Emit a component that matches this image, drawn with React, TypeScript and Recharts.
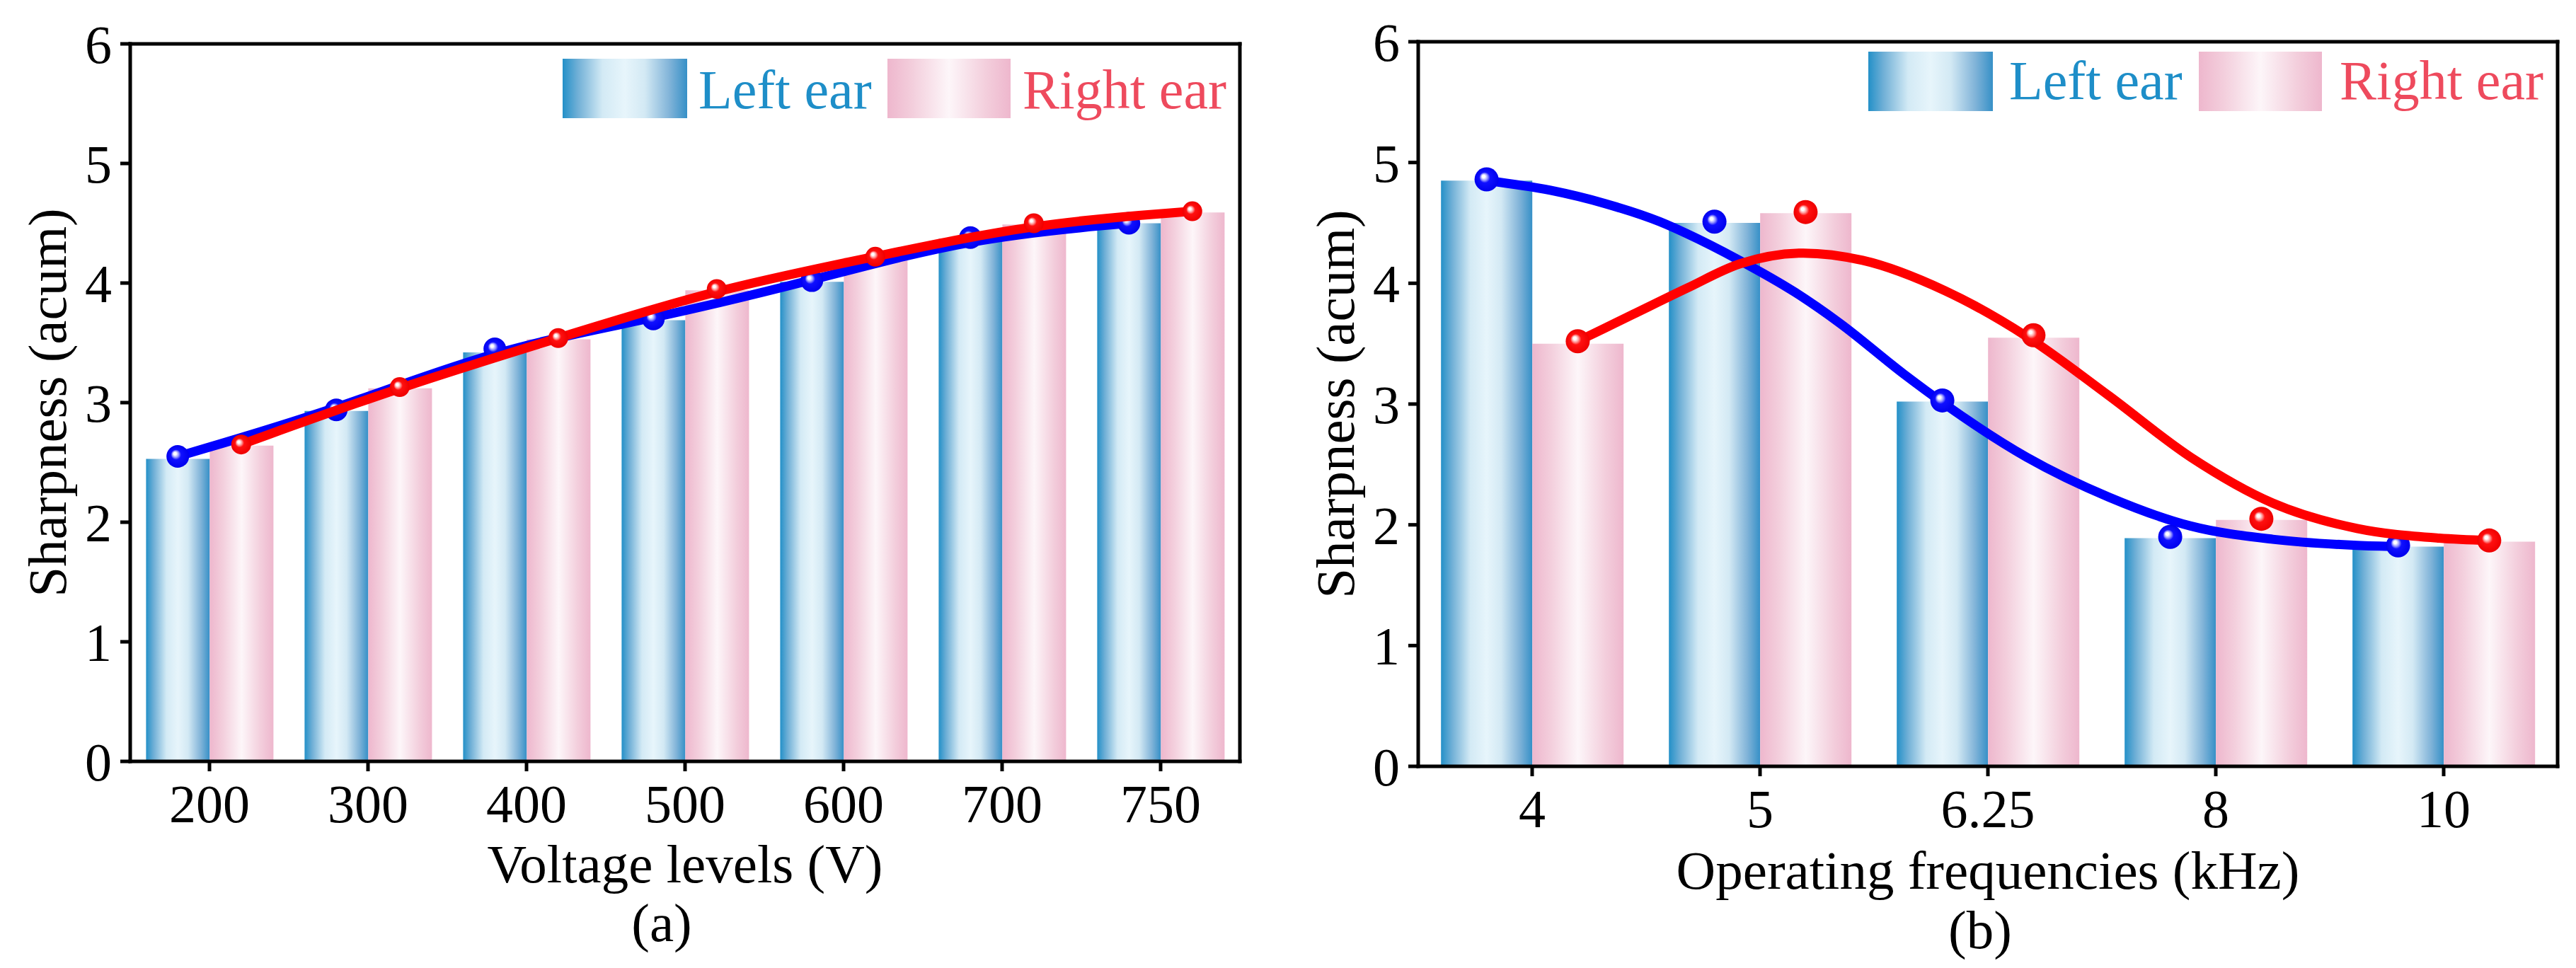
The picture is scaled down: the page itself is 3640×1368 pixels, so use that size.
import React from 'react';
import { ComposedChart, Bar, Line, Scatter, XAxis, YAxis } from 'recharts';

// ---------- Panel (a): voltage levels ----------
const voltageLevels = ['200', '300', '400', '500', '600', '700', '750'];
const voltageLeftEar = [2.53, 2.93, 3.42, 3.69, 4.01, 4.37, 4.5];
const voltageRightEar = [2.64, 3.12, 3.53, 3.94, 4.21, 4.49, 4.59];
const voltageLeftMarks = [2.55, 2.94, 3.45, 3.7, 4.02, 4.38, 4.5];
const voltageRightMarks = [2.65, 3.13, 3.54, 3.95, 4.22, 4.5, 4.6];

// ---------- Panel (b): operating frequencies ----------
const freqLevels = ['4', '5', '6.25', '8', '10'];
const freqLeftEar = [4.85, 4.5, 3.02, 1.89, 1.82];
const freqRightEar = [3.5, 4.58, 3.55, 2.04, 1.86];
const freqLeftMarks = [4.86, 4.51, 3.03, 1.9, 1.83];
const freqRightMarks = [3.52, 4.59, 3.57, 2.05, 1.87];

// fitted curves of panel (b), read along the category axis (category-index units)
const freqLeftFitPos = [0.3, 0.58, 0.82, 1.06, 1.18, 1.41, 1.65, 1.85, 2.13, 2.31, 2.67, 3.03, 3.39, 3.75, 4.12, 4.3];
const freqLeftFitVal = [4.85, 4.77, 4.66, 4.51, 4.41, 4.19, 3.93, 3.67, 3.25, 3.0, 2.56, 2.23, 1.99, 1.88, 1.83, 1.82];
const freqRightFitPos = [0.7, 0.94, 1.18, 1.41, 1.69, 1.95, 2.31, 2.67, 3.03, 3.39, 3.75, 4.12, 4.48, 4.7];
const freqRightFitVal = [3.52, 3.74, 3.96, 4.16, 4.25, 4.19, 3.94, 3.56, 3.07, 2.56, 2.18, 1.97, 1.89, 1.87];

const yTicks = [0, 1, 2, 3, 4, 5, 6];

const FONT = "'Liberation Serif', 'Times New Roman', Times, serif";
const CAT_GAP = 0.1; // barCategoryGap 10%
const BAR_SHARE = 0.4; // each bar = 40% of band
const LEFT_CENTER = CAT_GAP + BAR_SHARE / 2;
const RIGHT_CENTER = CAT_GAP + BAR_SHARE * 1.5;

const axisStroke = { stroke: '#000', strokeWidth: 5, strokeLinecap: 'square' as const };
const tickStroke = { stroke: '#000', strokeWidth: 5 };
const tickFont = { fill: '#000', fontSize: 76, fontFamily: FONT };

function Grads({ id }: { id: string }) {
  return (
    <defs>
      <linearGradient id={`${id}-blue`} x1="0" y1="0" x2="1" y2="0">
        <stop offset="0" stopColor="#2390C8" />
        <stop offset="0.12" stopColor="#6FAFD6" />
        <stop offset="0.32" stopColor="#D3EAF5" />
        <stop offset="0.5" stopColor="#E7F5FB" />
        <stop offset="0.66" stopColor="#D3E9F4" />
        <stop offset="0.86" stopColor="#80B3D8" />
        <stop offset="1" stopColor="#3690C7" />
      </linearGradient>
      <linearGradient id={`${id}-pink`} x1="0" y1="0" x2="1" y2="0">
        <stop offset="0" stopColor="#EEB7CD" />
        <stop offset="0.2" stopColor="#F3CEDC" />
        <stop offset="0.5" stopColor="#FDF6F9" />
        <stop offset="0.8" stopColor="#F3CEDC" />
        <stop offset="1" stopColor="#EEB7CD" />
      </linearGradient>
      <radialGradient id={`${id}-sb`} cx="0.5" cy="0.5" r="0.5" fx="0.36" fy="0.36">
        <stop offset="0" stopColor="#FFFFFF" />
        <stop offset="0.12" stopColor="#FFFFFF" />
        <stop offset="0.28" stopColor="#9A9AFF" />
        <stop offset="0.45" stopColor="#1010FF" />
        <stop offset="1" stopColor="#0000EE" />
      </radialGradient>
      <radialGradient id={`${id}-sr`} cx="0.5" cy="0.5" r="0.5" fx="0.36" fy="0.36">
        <stop offset="0" stopColor="#FFFFFF" />
        <stop offset="0.12" stopColor="#FFFFFF" />
        <stop offset="0.28" stopColor="#FF9A9A" />
        <stop offset="0.45" stopColor="#FF1010" />
        <stop offset="1" stopColor="#EE0000" />
      </radialGradient>
    </defs>
  );
}

type PanelProps = {
  id: string;
  cats: string[];
  lBars: number[];
  rBars: number[];
  lMarks: number[];
  rMarks: number[];
  lFitPos: number[];
  lFitVal: number[];
  rFitPos: number[];
  rFitVal: number[];
  curve: 'basis' | 'monotone';
  rBlue: number;
  rRed: number;
  margin: { top: number; right: number; bottom: number; left: number };
  xHeight: number;
  yWidth: number;
};

function Panel(p: PanelProps) {
  const n = p.cats.length;
  const data = p.cats.map((c, i) => ({ cat: c, left: p.lBars[i], right: p.rBars[i] }));
  const lMarkData = p.lMarks.map((v, i) => ({ x: i + LEFT_CENTER, y: v }));
  const rMarkData = p.rMarks.map((v, i) => ({ x: i + RIGHT_CENTER, y: v }));
  const lFit = p.lFitPos.map((x, i) => ({ x, y: p.lFitVal[i] }));
  const rFit = p.rFitPos.map((x, i) => ({ x, y: p.rFitVal[i] }));
  const sphere = (grad: string, r: number) => (props: any) => (
    <circle cx={props.cx} cy={props.cy} r={r} fill={`url(#${grad})`} />
  );
  return (
    <ComposedChart
      width={1820}
      height={1368}
      data={data}
      margin={p.margin}
      barCategoryGap="10%"
      barGap={0}
    >
      <Grads id={p.id} />
      <XAxis
        xAxisId="cat"
        dataKey="cat"
        type="category"
        height={p.xHeight}
        interval={0}
        tickSize={14}
        tickMargin={18}
        tick={tickFont}
        tickLine={tickStroke}
        axisLine={axisStroke}
      />
      <XAxis
        xAxisId="pos"
        dataKey="x"
        type="number"
        orientation="top"
        domain={[0, n]}
        allowDataOverflow
        height={1}
        tick={false}
        tickLine={false}
        axisLine={axisStroke}
      />
      <YAxis
        yAxisId="v"
        domain={[0, 6]}
        ticks={yTicks}
        interval={0}
        width={p.yWidth}
        tickSize={14}
        tickMargin={12}
        tick={tickFont}
        tickLine={tickStroke}
        axisLine={axisStroke}
      />
      <YAxis
        yAxisId="frame"
        orientation="right"
        domain={[0, 6]}
        width={1}
        tick={false}
        tickLine={false}
        axisLine={axisStroke}
      />
      <Bar xAxisId="cat" yAxisId="v" dataKey="left" fill={`url(#${p.id}-blue)`} isAnimationActive={false} />
      <Bar xAxisId="cat" yAxisId="v" dataKey="right" fill={`url(#${p.id}-pink)`} isAnimationActive={false} />
      <Line
        xAxisId="pos"
        yAxisId="v"
        data={lFit}
        dataKey="y"
        type={p.curve}
        stroke="#0000FF"
        strokeWidth={13}
        dot={false}
        activeDot={false}
        isAnimationActive={false}
        {...({ zIndex: 610 } as any)}
      />
      <Scatter
        xAxisId="pos"
        yAxisId="v"
        data={lMarkData}
        dataKey="y"
        shape={sphere(`${p.id}-sb`, p.rBlue)}
        isAnimationActive={false}
        {...({ zIndex: 620 } as any)}
      />
      <Line
        xAxisId="pos"
        yAxisId="v"
        data={rFit}
        dataKey="y"
        type={p.curve}
        stroke="#FF0000"
        strokeWidth={13}
        dot={false}
        activeDot={false}
        isAnimationActive={false}
        {...({ zIndex: 630 } as any)}
      />
      <Scatter
        xAxisId="pos"
        yAxisId="v"
        data={rMarkData}
        dataKey="y"
        shape={sphere(`${p.id}-sr`, p.rRed)}
        isAnimationActive={false}
        {...({ zIndex: 640 } as any)}
      />
    </ComposedChart>
  );
}

function LegendBlock({ x, y, gap, id }: { x: number[]; y: number; gap: number; id: string }) {
  // x = [blue swatch x, blue text x, pink swatch x, pink text x]
  const h = 84;
  return (
    <g>
      <rect x={x[0]} y={y} width={176} height={h} fill={`url(#${id}-blue)`} />
      <text x={x[1]} y={y + h / 2 + gap} fontSize={78} fontFamily={FONT} fill="#1E8EC8">
        Left ear
      </text>
      <rect x={x[2]} y={y} width={174} height={h} fill={`url(#${id}-pink)`} />
      <text x={x[3]} y={y + h / 2 + gap} fontSize={78} fontFamily={FONT} fill="#EE4A5D">
        Right ear
      </text>
    </g>
  );
}

export default function App() {
  return (
    <div style={{ position: 'absolute', left: 0, top: 0, width: 3640, height: 1368, background: '#fff', overflow: 'hidden' }}>
      <div style={{ position: 'absolute', left: 0, top: 0 }}>
        <Panel
          id="pa"
          cats={voltageLevels}
          lBars={voltageLeftEar}
          rBars={voltageRightEar}
          lMarks={voltageLeftMarks}
          rMarks={voltageRightMarks}
          lFitPos={voltageLeftMarks.map((_, i) => i + LEFT_CENTER)}
          lFitVal={voltageLeftMarks}
          rFitPos={voltageRightMarks.map((_, i) => i + RIGHT_CENTER)}
          rFitVal={voltageRightMarks}
          curve="basis"
          rBlue={16}
          rRed={14}
          margin={{ top: 61, right: 67, bottom: 0, left: 0 }}
          xHeight={292}
          yWidth={184}
        />
      </div>
      <div style={{ position: 'absolute', left: 1820, top: 0 }}>
        <Panel
          id="pb"
          cats={freqLevels}
          lBars={freqLeftEar}
          rBars={freqRightEar}
          lMarks={freqLeftMarks}
          rMarks={freqRightMarks}
          lFitPos={freqLeftFitPos}
          lFitVal={freqLeftFitVal}
          rFitPos={freqRightFitPos}
          rFitVal={freqRightFitVal}
          curve="monotone"
          rBlue={17}
          rRed={17}
          margin={{ top: 58, right: 25, bottom: 0, left: 0 }}
          xHeight={285}
          yWidth={184}
        />
      </div>
      <svg
        width={3640}
        height={1368}
        style={{ position: 'absolute', left: 0, top: 0, pointerEvents: 'none' }}
      >
        <Grads id="lg" />
        {/* panel (a) texts */}
        <text x={968} y={1247} textAnchor="middle" fontSize={77} fontFamily={FONT} fill="#000">
          Voltage levels (V)
        </text>
        <text x={935} y={1330} textAnchor="middle" fontSize={77} fontFamily={FONT} fill="#000">
          (a)
        </text>
        <text
          x={93}
          y={569}
          transform="rotate(-90, 93, 569)"
          textAnchor="middle"
          fontSize={77}
          fontFamily={FONT}
          fill="#000"
        >
          Sharpness (acum)
        </text>
        <LegendBlock x={[795, 987, 1254, 1445]} y={83} gap={28} id="lg" />
        {/* panel (b) texts */}
        <text x={2809} y={1256} textAnchor="middle" fontSize={77} fontFamily={FONT} fill="#000">
          Operating frequencies (kHz)
        </text>
        <text x={2798} y={1340} textAnchor="middle" fontSize={77} fontFamily={FONT} fill="#000">
          (b)
        </text>
        <text
          x={1913}
          y={571}
          transform="rotate(-90, 1913, 571)"
          textAnchor="middle"
          fontSize={77}
          fontFamily={FONT}
          fill="#000"
        >
          Sharpness (acum)
        </text>
        <LegendBlock x={[2640, 2839, 3107, 3306]} y={73} gap={25} id="lg" />
      </svg>
    </div>
  );
}
